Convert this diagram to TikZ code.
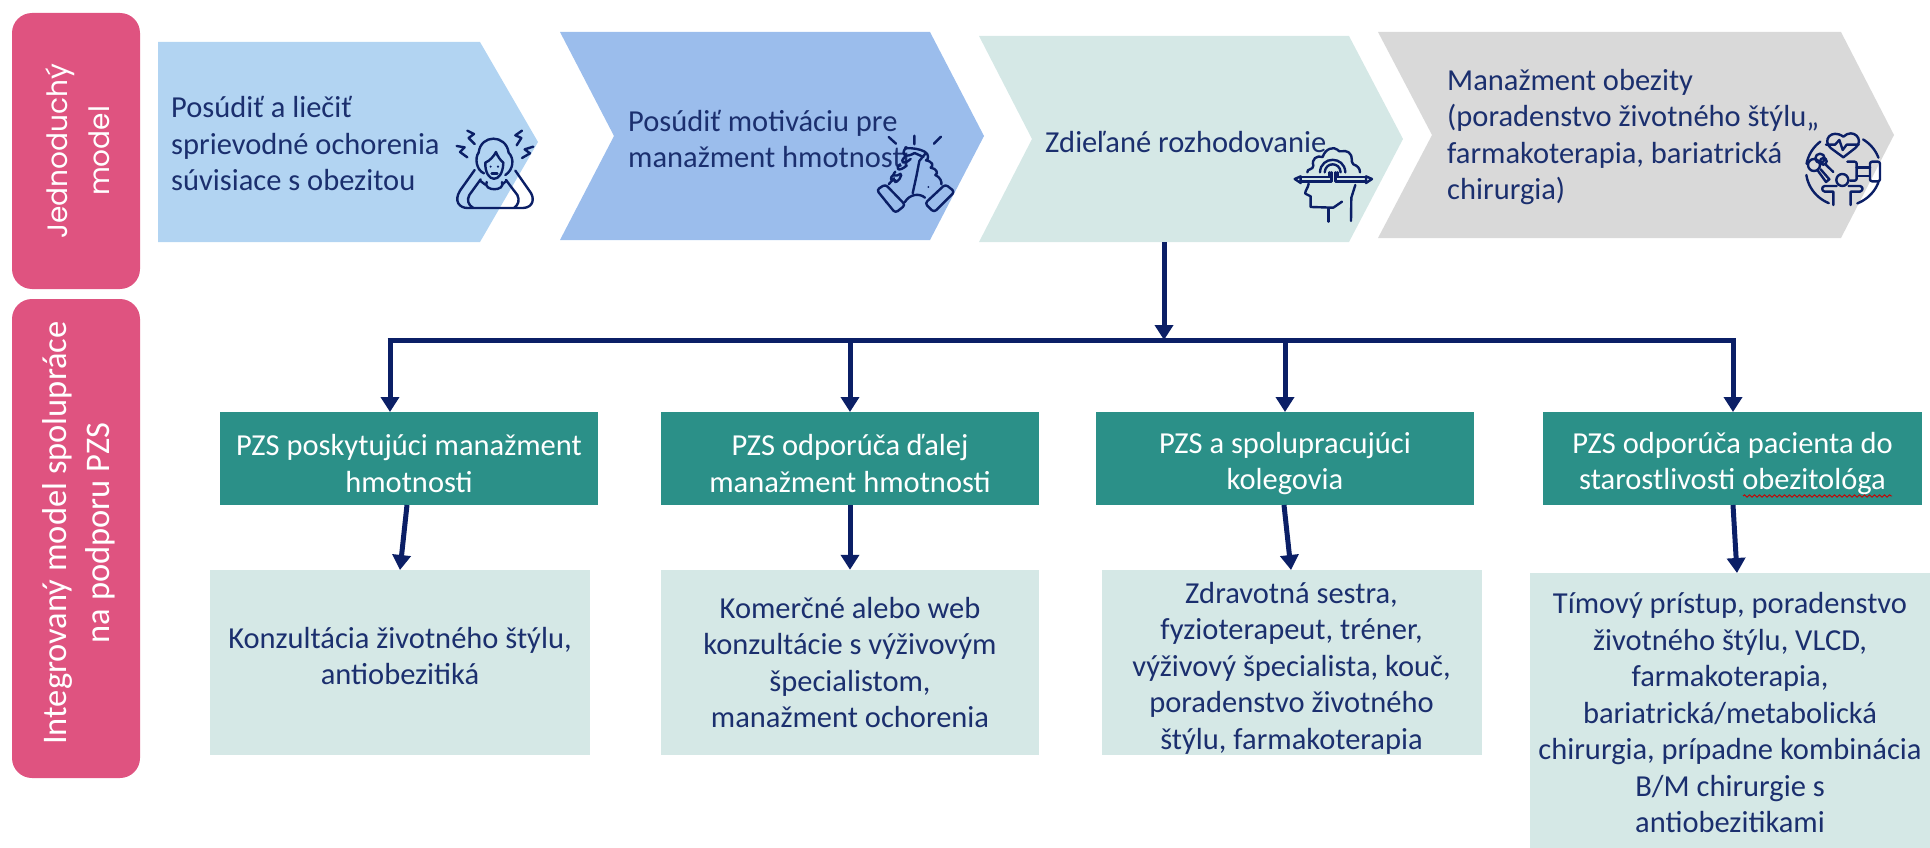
\documentclass[tikz,border=0pt]{standalone}
\usepackage{fontspec}
\setmainfont{Carlito}
\newfontfamily\popfont{Poppins}
\usetikzlibrary{arrows.meta,decorations.pathmorphing}
\definecolor{navy}{HTML}{0B1F66}
\definecolor{txt}{HTML}{1B2F6E}
\definecolor{cA}{HTML}{B2D4F2}
\definecolor{cB}{HTML}{9BBDEC}
\definecolor{cC}{HTML}{D5E8E6}
\definecolor{cD}{HTML}{D9D9D9}
\definecolor{pink}{HTML}{DF5380}
\definecolor{teal}{HTML}{2B9088}
\newcommand{\strutdn}[1]{\rule{0pt}{#1}}
\tikzset{
  ftxt/.style={font=\fontsize{30.5}{36.5}\selectfont},
  lefttext/.style={ftxt,text=txt,anchor=west,align=left,inner sep=0},
  pinkbox/.style={fill=pink,rounded corners=20pt},
  tealbox/.style={fill=teal,text=white,ftxt,align=center,inner sep=0,anchor=center},
  lightbox/.style={fill=cC,text=txt,ftxt,align=center,inner sep=0,anchor=center},
  conn/.style={draw=navy,line width=5pt},
  connar/.style={conn,-{Triangle[width=18pt,length=15pt]}},
  ico/.style={draw=navy,line width=2.4pt,line cap=round,line join=round},
}
\begin{document}
\begin{tikzpicture}[x=1pt,y=-1pt]
\useasboundingbox (0,0) rectangle (1930,848);
\clip (0,0) rectangle (1930,848);
% side labels
\path[pinkbox] (12,13) rectangle (140,289);
\path[pinkbox] (12,299) rectangle (140,778);
\node[rotate=90,text=white,align=center,inner sep=0,font=\popfont\fontsize{28}{42}\selectfont] (l1) at (78,151) {Jednoduchý\\model};
\node[rotate=90,text=white,align=center,inner sep=0,font=\fontsize{34.5}{43}\selectfont] (l2) at (79,533) {Integrovaný model spolupráce\\na podporu PZS};
% chevrons
\fill[cA] (158,42) -- (480,42) -- (538,142) -- (480,242) -- (158,242) -- cycle;
\fill[cB] (560,32) -- (930,32) -- (984,136) -- (930,240) -- (560,240) -- (614,136) -- cycle;
\fill[cC] (979,36) -- (1349,36) -- (1403,139) -- (1349,242) -- (979,242) -- (1032,139) -- cycle;
\fill[cD] (1378,32) -- (1841,32) -- (1894,135) -- (1841,238) -- (1378,238) -- (1432,135) -- cycle;
\node[lefttext] (t1) at (171,144) {Posúdiť a liečiť\\sprievodné ochorenia\\súvisiace s obezitou};
\node[lefttext] (t2) at (628,139) {Posúdiť motiváciu pre\\manažment hmotnosti};
\node[lefttext] (t3) at (1045,142) {Zdieľané rozhodovanie};
\node[lefttext] (t4) at (1447,137) {Manažment obezity\\(poradenstvo životného štýlu,,\\farmakoterapia, bariatrická\\chirurgia)};
% teal boxes
\node[tealbox,minimum width=378pt,minimum height=93pt] (g1) at (409,458.5) {\strutdn{31pt}PZS poskytujúci manažment\\hmotnosti};
\node[tealbox,minimum width=378pt,minimum height=93pt] (g2) at (850,458.5) {\strutdn{31pt}PZS odporúča ďalej\\manažment hmotnosti};
\node[tealbox,minimum width=378pt,minimum height=93pt] (g3) at (1285,458.5) {\strutdn{31pt}PZS a spolupracujúci\\kolegovia};
\node[tealbox,minimum width=379pt,minimum height=93pt] (g4) at (1732.5,458.5) {\strutdn{31pt}PZS odporúča pacienta do\\starostlivosti obezitológa};
\draw[red!80!black,line width=0.9pt,decorate,decoration={snake,amplitude=1.2pt,segment length=5pt}] (1743,496) -- (1892,496);
% light boxes
\node[lightbox,minimum width=380pt,minimum height=185pt] (b1) at (400,662.5) {Konzultácia životného štýlu,\\antiobezitiká\rule[-13pt]{0pt}{13pt}};
\node[lightbox,minimum width=378pt,minimum height=185pt] (b2) at (850,662.5) {Komerčné alebo web\\konzultácie s výživovým\\špecialistom,\\manažment ochorenia};
\node[lightbox,minimum width=380pt,minimum height=185pt] (b3) at (1291.5,662.5) {\strutdn{32pt}Zdravotná sestra,\\fyzioterapeut, tréner,\\výživový špecialista, kouč,\\poradenstvo životného\\štýlu, farmakoterapia};
\node[lightbox,minimum width=400pt,minimum height=275pt] (b4) at (1730,710.5) {\strutdn{26pt}Tímový prístup, poradenstvo\\životného štýlu, VLCD,\\farmakoterapia,\\bariatrická/metabolická\\chirurgia, prípadne kombinácia\\B/M chirurgie s\\antiobezitikami};
% connectors
\coordinate (src) at (1164,242);
\coordinate (bus) at (1164,340);
\coordinate (busL) at (390,340);
\coordinate (busR) at (1733,340);
\coordinate (d1) at (390,412);
\coordinate (d2) at (850,412);
\coordinate (d3) at (1285,412);
\coordinate (d4) at (1733,412);
\coordinate (u1) at (407,505);
\coordinate (e1) at (400,570);
\coordinate (u3) at (1284,505);
\coordinate (e3) at (1291,570);
\coordinate (u4) at (1733,505);
\coordinate (e4) at (1737,573);
\draw[connar] (src) -- (bus);
\draw[conn,line cap=butt] ([xshift=-2.5pt]busL) -- ([xshift=2.5pt]busR);
\draw[connar] (busL) -- (d1);
\draw[connar] (d2 |- bus) -- (d2);
\draw[connar] (d3 |- bus) -- (d3);
\draw[connar] (busR) -- (d4);
\draw[connar] (u1) -- (e1);
\draw[connar] (g2.south) -- (b2.north);
\draw[connar] (u3) -- (e3);
\draw[connar] (u4) -- (e4);
% icon 1: woman
\begin{scope}[shift={(440,120)},scale=0.3333]
\draw[ico] (116,98) .. controls (122,42) and (198,42) .. (206,98);
\draw[ico] (116,98) .. controls (104,112) and (108,150) .. (132,160);
\draw[ico] (206,98) .. controls (224,116) and (220,150) .. (196,165);
\draw[ico] (136,128) .. controls (150,122) and (162,108) .. (168,96) .. controls (172,108) and (182,122) .. (190,128);
\draw[ico] (136,128) .. controls (134,190) and (188,195) .. (190,128);
\fill[navy] (152,140) circle (3.5) (174,140) circle (3.5);
\draw[ico] (155,160) -- (172,160);
\draw[ico] (140,186) .. controls (128,215) and (198,215) .. (186,186);
\draw[ico] (104,150) -- (60,212) .. controls (40,245) and (60,264) .. (82,264) -- (250,264) .. controls (282,262) and (285,232) .. (268,212) -- (226,152);
\draw[ico] (122,178) -- (88,225) .. controls (80,240) and (84,255) .. (100,264);
\draw[ico] (198,180) -- (232,225) .. controls (240,240) and (235,255) .. (222,264);
\draw[ico] (120,182) -- (136,194) (200,182) -- (186,194);
\draw[ico] (82,32) -- (102,42) -- (86,54) -- (104,72);
\draw[ico] (50,78) -- (74,82) -- (60,96) -- (82,112);
\draw[ico] (246,32) -- (226,46) -- (244,54) -- (230,76);
\draw[ico] (280,80) -- (254,88) -- (270,100) -- (246,114);
\end{scope}
% icon 2: hands
\begin{scope}[shift={(860,125)},scale=0.3333]
\draw[ico] (86,36) -- (108,56) (163,32) -- (163,58) (243,35) -- (222,56);
\draw[ico,rounded corners=3pt] (50,195) -- (76,178) -- (136,240) -- (106,264) -- cycle;
\draw[ico,rounded corners=3pt] (195,235) -- (256,178) -- (284,200) -- (222,262) -- cycle;
\draw[ico] (86,178) -- (102,160);
\draw[ico] (100,150) .. controls (88,158) and (92,170) .. (106,166) .. controls (100,178) and (120,168) .. (124,150);
\draw[ico] (106,140) .. controls (94,150) and (104,158) .. (122,146);
\draw[ico] (120,118) .. controls (104,132) and (116,142) .. (140,122);
\draw[ico] (134,96) .. controls (118,112) and (130,122) .. (152,102);
\draw[ico] (136,70) .. controls (122,90) and (136,100) .. (164,84);
\draw[ico] (136,70) .. controls (155,68) and (180,72) .. (194,80);
\draw[ico] (194,80) .. controls (208,88) and (206,104) .. (198,106) .. controls (218,110) and (222,122) .. (212,128) .. controls (230,130) and (236,146) .. (226,150) .. controls (240,156) and (246,170) .. (244,178);
\draw[ico] (164,84) -- (190,96);
\draw[ico] (134,232) .. controls (150,205) and (180,205) .. (195,218);
\draw[ico] (196,86) -- (178,108) -- (170,150) -- (158,205);
\fill[navy] (78,232) circle (3) (205,186) circle (3);
\end{scope}
% icon 3: head with gear
\begin{scope}[shift={(1280,135)},scale=0.3333]
\draw[ico] (82,112) .. controls (80,100) and (100,106) .. (100,92) .. controls (94,72) and (110,60) .. (128,66) .. controls (136,40) and (162,34) .. (172,44) .. controls (178,56) and (192,42) .. (206,52) .. controls (222,64) and (210,80) .. (220,88) .. controls (232,92) and (240,100) .. (240,112);
\draw[ico] (120,112) .. controls (122,62) and (194,62) .. (196,112);
\draw[ico] (134,112) .. controls (136,80) and (180,80) .. (182,112);
\draw[ico] (62,124) -- (44,132) -- (62,144) -- cycle;
\draw[ico] (62,126) -- (148,126) -- (148,112) (62,139) -- (154,139) -- (154,112);
\draw[ico] (258,124) -- (276,132) -- (258,144) -- cycle;
\draw[ico] (258,126) -- (172,126) -- (172,112) (258,139) -- (166,139) -- (166,112);
\draw[ico] (86,146) .. controls (84,160) and (74,168) .. (76,176) -- (92,184) -- (92,216) -- (160,218) -- (186,200);
\draw[ico] (145,220) -- (145,260);
\draw[ico] (226,150) -- (214,188) -- (213,258);
\end{scope}
% icon 4: circle
\begin{scope}[shift={(1790,120)},scale=0.3333]
\draw[ico] plot[domain=190:232,samples=12] ({160+112*cos(\x)},{150+108*sin(\x)});
\draw[ico] plot[domain=-58:-20,samples=12] ({160+112*cos(\x)},{150+108*sin(\x)});
\draw[ico] plot[domain=113:172,samples=16] ({160+112*cos(\x)},{150+108*sin(\x)});
\draw[ico] plot[domain=20:68,samples=14] ({160+112*cos(\x)},{150+108*sin(\x)});
\draw[ico] (160,112) -- (122,84) .. controls (95,60) and (125,25) .. (160,50) .. controls (190,22) and (225,60) .. (196,84) -- cycle;
\draw[ico] (108,74) -- (135,74) -- (148,60) -- (158,90) -- (170,74) -- (206,74);
\draw[ico,rounded corners=2pt] (240,125) rectangle (270,184);
\draw[ico,rounded corners=2pt] (172,125) -- (200,125) -- (200,182) -- (180,182);
\draw[ico] (200,143) -- (240,143) (200,168) -- (240,168);
\draw[ico] (157,180) circle (18);
\draw[ico] (130,255) -- (130,215) -- (104,215) .. controls (94,212) and (94,200) .. (104,198) -- (140,198);
\draw[ico] (182,255) -- (182,215) -- (210,215) .. controls (220,212) and (220,200) .. (210,198) -- (176,198);
\draw[ico] (72,135) circle (18);
\draw[ico] (90,115) circle (14);
\draw[ico] (100,124) circle (10);
\draw[ico] (105,132) -- (130,156);
\draw[ico] (82,150) -- (108,186) -- (118,178) -- (92,148);
\end{scope}
\end{tikzpicture}
\end{document}
